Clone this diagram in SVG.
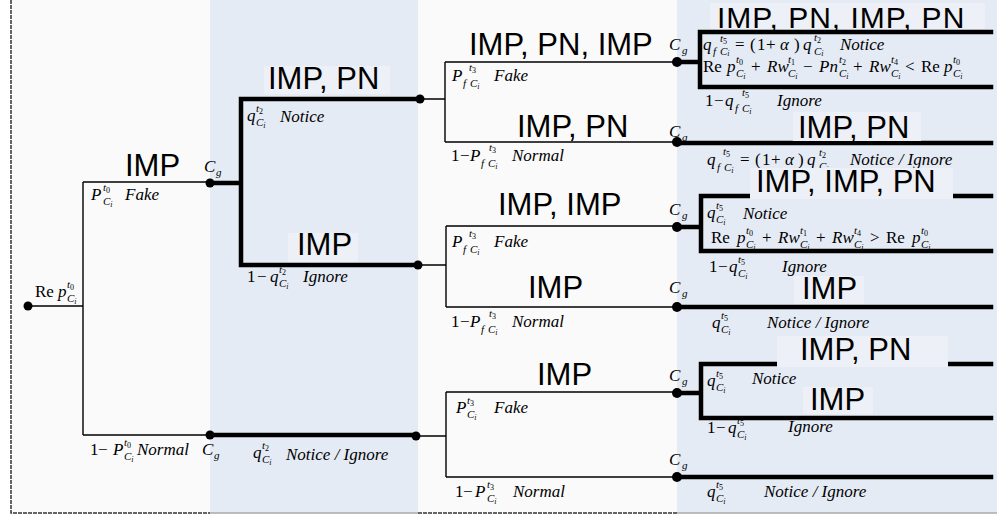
<svg xmlns="http://www.w3.org/2000/svg" width="997" height="518" viewBox="0 0 997 518">
<style>
.t{font-family:"Liberation Serif","Times New Roman",serif;font-size:17px;fill:#000}
.b{font-family:"Liberation Sans",Arial,sans-serif;font-size:31px;fill:#000}
.i{font-style:italic}
.s{font-size:11px}
.u{font-size:8px}
.r{font-style:normal}
.thin{fill:none;stroke:#000;stroke-width:1.4}
.thick{fill:none;stroke:#000;stroke-width:4.5;stroke-linejoin:miter;stroke-linecap:square}
.dot{fill:#000}
.band{fill:#e5ebf5}
.box{fill:#edf0f6}
</style>
<rect width="997" height="518" fill="#ffffff"/>
<rect x="11" y="0" width="986" height="513" fill="#fafafa"/>
<g id="bands">
<rect class="band" x="210" y="0" width="208" height="513"/>
<rect class="band" x="677" y="0" width="320" height="513"/>
</g>
<g id="frame" fill="none" stroke="#333" stroke-width="1.5" stroke-dasharray="4 1">
<path d="M11,0 V513 H210"/>
<path d="M418,513 H677"/>
<path d="M210,513 H418 M677,513 H997" stroke="#aaa" stroke-dasharray="none"/>
</g>
<g id="connectors">
<path class="thin" d="M28,306 H83 M83,182 V435 M83,182 H210 M83,435 H210"/>
<path class="thin" d="M420,99 H445 M445,62 V142 M445,62 H677 M445,142 H677"/>
<path class="thin" d="M418,265 H446 M446,226 V307 M446,226 H677 M446,307 H677"/>
<path class="thin" d="M416,436 H446 M446,392 V477 M446,392 H677 M446,477 H677"/>
<path class="thick" d="M210,183 H241 M418,99 H241 V265 H416"/>
<path class="thick" d="M210,435 H414"/>
<path class="thick" d="M991,32 H700 V87 H991 M677,62 H700"/>
<path class="thick" d="M677,143 H991"/>
<path class="thick" d="M991,196 H701 V251 H991 M677,227 H701"/>
<path class="thick" d="M677,307 H991"/>
<path class="thick" d="M991,364 H701 V418 H991 M677,393 H701"/>
<path class="thick" d="M677,477 H991"/>
</g>
<g id="n-root">
<circle class="dot" cx="28" cy="306" r="4.5"/>
<text class="t" x="35" y="297">Re <tspan class="i" x="58" y="297">p</tspan><tspan class="s i" x="67" y="288">t</tspan><tspan class="u r" y="290">0</tspan><tspan class="s i" x="67" y="302">C</tspan><tspan class="u i" y="304">i</tspan></text>
</g>
<g id="l-imp1">
<text class="b" x="125" y="176">IMP</text>
<text class="t i" x="91" y="200">P<tspan class="s" x="103" y="191">t</tspan><tspan class="u r" y="193">0</tspan><tspan class="s" x="103" y="205">C</tspan><tspan class="u" y="207">i</tspan><tspan x="125" y="200">Fake</tspan></text>
</g>
<g id="l-normal1">
<text class="t" x="90" y="455">1<tspan x="98" y="455">−</tspan><tspan class="i" x="113" y="455">P</tspan><tspan class="s i" x="124" y="446">t</tspan><tspan class="u r" y="448">0</tspan><tspan class="s i" x="124" y="460">C</tspan><tspan class="u i" y="462">i</tspan><tspan class="i" x="137" y="455">Normal</tspan></text>
</g>
<g id="n-cg-a">
<circle class="dot" cx="210" cy="183" r="4.5"/>
<text class="t i" x="204" y="172">C<tspan class="s" x="216" y="176">g</tspan></text>
</g>
<g id="n-cg-b">
<circle class="dot" cx="210" cy="435" r="4.5"/>
<text class="t i" x="202" y="455">C<tspan class="s" x="214" y="459">g</tspan></text>
</g>
<g id="l-stage2">
<rect class="box" x="264" y="66" width="126" height="28"/>
<text class="b" x="268" y="89">IMP, PN</text>
<text class="t i" x="247" y="121">q<tspan class="s" x="256" y="112">t</tspan><tspan class="u r" y="114">2</tspan><tspan class="s" x="256" y="126">C</tspan><tspan class="u" y="128">i</tspan><tspan x="280" y="122">Notice</tspan></text>
<rect class="box" x="288" y="233" width="70" height="29"/>
<text class="b" x="297" y="255">IMP</text>
<text class="t" x="247" y="282">1<tspan x="257" y="282">−</tspan><tspan class="i" x="270" y="282">q</tspan><tspan class="s i" x="279" y="273">t</tspan><tspan class="u r" y="275">2</tspan><tspan class="s i" x="279" y="287">C</tspan><tspan class="u i" y="289">i</tspan><tspan class="i" x="303" y="282">Ignore</tspan></text>
<text class="t i" x="253" y="458">q<tspan class="s" x="262" y="449">t</tspan><tspan class="u r" y="451">2</tspan><tspan class="s" x="262" y="463">C</tspan><tspan class="u" y="465">i</tspan><tspan x="286" y="460">Notice / Ignore</tspan></text>
</g>
<g id="n-s2a"><circle class="dot" cx="420" cy="99" r="4.5"/></g>
<g id="n-s2b"><circle class="dot" cx="418" cy="265" r="4.5"/></g>
<g id="n-s2c"><circle class="dot" cx="416" cy="436" r="4.5"/></g>
<g id="l-stage3a">
<text class="b" x="469" y="55">IMP, PN, IMP</text>
<text class="t i" x="452" y="81">P<tspan class="s" x="469" y="71">t</tspan><tspan class="u r" y="73">3</tspan><tspan class="s" x="463" y="87">f</tspan><tspan class="s" x="470" y="87">C</tspan><tspan class="u" y="89">i</tspan><tspan x="494" y="81">Fake</tspan></text>
<text class="b" x="517" y="137">IMP, PN</text>
<text class="t" x="451" y="161">1<tspan x="460" y="161">−</tspan><tspan class="i" x="470" y="161">P</tspan><tspan class="s i" x="489" y="151">t</tspan><tspan class="u r" y="153">3</tspan><tspan class="s i" x="481" y="167">f</tspan><tspan class="s i" x="488" y="167">C</tspan><tspan class="u i" y="169">i</tspan><tspan class="i" x="512" y="161">Normal</tspan></text>
</g>
<g id="l-stage3b">
<text class="b" x="498" y="215">IMP, IMP</text>
<text class="t i" x="452" y="247">P<tspan class="s" x="469" y="237">t</tspan><tspan class="u r" y="239">3</tspan><tspan class="s" x="463" y="253">f</tspan><tspan class="s" x="470" y="253">C</tspan><tspan class="u" y="255">i</tspan><tspan x="494" y="247">Fake</tspan></text>
<text class="b" x="528" y="298">IMP</text>
<text class="t" x="451" y="327">1<tspan x="460" y="327">−</tspan><tspan class="i" x="470" y="327">P</tspan><tspan class="s i" x="489" y="317">t</tspan><tspan class="u r" y="319">3</tspan><tspan class="s i" x="481" y="333">f</tspan><tspan class="s i" x="488" y="333">C</tspan><tspan class="u i" y="335">i</tspan><tspan class="i" x="512" y="327">Normal</tspan></text>
</g>
<g id="l-stage3c">
<text class="b" x="537" y="385">IMP</text>
<text class="t i" x="456" y="413">P<tspan class="s" x="467" y="404">t</tspan><tspan class="u r" y="406">3</tspan><tspan class="s" x="467" y="418">C</tspan><tspan class="u" y="420">i</tspan><tspan x="494" y="413">Fake</tspan></text>
<text class="t" x="455" y="497">1<tspan x="463" y="497">−</tspan><tspan class="i" x="475" y="497">P</tspan><tspan class="s i" x="487" y="488">t</tspan><tspan class="u r" y="490">3</tspan><tspan class="s i" x="487" y="502">C</tspan><tspan class="u i" y="504">i</tspan><tspan class="i" x="513" y="497">Normal</tspan></text>
</g>
<g id="n-s3a">
<circle class="dot" cx="677" cy="62" r="5"/>
<text class="t i" x="669" y="50">C<tspan class="s" x="682" y="54">g</tspan></text>
</g>
<g id="n-s3b">
<circle class="dot" cx="677" cy="142" r="5"/>
<text class="t i" x="669" y="137">C<tspan class="s" x="682" y="141">g</tspan></text>
</g>
<g id="n-s3c">
<circle class="dot" cx="677" cy="227" r="5"/>
<text class="t i" x="669" y="215">C<tspan class="s" x="682" y="219">g</tspan></text>
</g>
<g id="n-s3d">
<circle class="dot" cx="677" cy="307" r="5"/>
<text class="t i" x="669" y="293">C<tspan class="s" x="682" y="297">g</tspan></text>
</g>
<g id="n-s3e">
<circle class="dot" cx="677" cy="393" r="5"/>
<text class="t i" x="669" y="381">C<tspan class="s" x="682" y="385">g</tspan></text>
</g>
<g id="n-s3f">
<circle class="dot" cx="677" cy="477" r="5"/>
<text class="t i" x="669" y="465">C<tspan class="s" x="682" y="469">g</tspan></text>
</g>
<g id="l-stage4a">
<rect class="box" x="710" y="3" width="275" height="26"/>
<text class="b" x="717" y="28" style="font-size:30px;letter-spacing:1px">IMP, PN, IMP, PN</text>
<text class="t" x="703" y="50"><tspan class="i">q</tspan><tspan class="s i" x="720" y="42">t</tspan><tspan class="u" y="44">5</tspan><tspan class="s i" x="713" y="55">f</tspan><tspan class="s i" x="720" y="55">C</tspan><tspan class="u i" y="56">i</tspan><tspan x="735" y="50">=</tspan><tspan x="750" y="50">(</tspan><tspan x="757" y="50">1</tspan><tspan x="766" y="50">+</tspan><tspan class="i" x="780" y="50">α</tspan><tspan x="794" y="50">)</tspan><tspan class="i" x="803" y="50">q</tspan><tspan class="s i" x="814" y="41">t</tspan><tspan class="u" y="43">2</tspan><tspan class="s i" x="814" y="55">C</tspan><tspan class="u i" y="56">i</tspan><tspan class="i" x="840" y="50">Notice</tspan></text>
<text class="t" x="703" y="72">Re<tspan class="i" x="727" y="72">p</tspan><tspan class="s i" x="736" y="63">t</tspan><tspan class="u" y="65">0</tspan><tspan class="s i" x="736" y="77">C</tspan><tspan class="u i" y="79">i</tspan><tspan x="751" y="72">+</tspan><tspan class="i" x="767" y="72">Rw</tspan><tspan class="s i" x="788" y="63">t</tspan><tspan class="u" y="65">1</tspan><tspan class="s i" x="788" y="77">C</tspan><tspan class="u i" y="79">i</tspan><tspan x="803" y="72">−</tspan><tspan class="i" x="819" y="72">Pn</tspan><tspan class="s i" x="839" y="63">t</tspan><tspan class="u" y="65">2</tspan><tspan class="s i" x="839" y="77">C</tspan><tspan class="u i" y="79">i</tspan><tspan x="853" y="72">+</tspan><tspan class="i" x="869" y="72">Rw</tspan><tspan class="s i" x="891" y="63">t</tspan><tspan class="u" y="65">4</tspan><tspan class="s i" x="891" y="77">C</tspan><tspan class="u i" y="79">i</tspan><tspan x="905" y="72">&lt;</tspan><tspan x="921" y="72">Re</tspan><tspan class="i" x="944" y="72">p</tspan><tspan class="s i" x="953" y="63">t</tspan><tspan class="u" y="65">0</tspan><tspan class="s i" x="953" y="77">C</tspan><tspan class="u i" y="79">i</tspan></text>
<text class="t" x="705" y="106">1<tspan x="714" y="106">−</tspan><tspan class="i" x="725" y="106">q</tspan><tspan class="s i" x="742" y="96">t</tspan><tspan class="u" y="98">5</tspan><tspan class="s i" x="735" y="112">f</tspan><tspan class="s i" x="742" y="112">C</tspan><tspan class="u i" y="114">i</tspan><tspan class="i" x="777" y="106">Ignore</tspan></text>
</g>
<g id="l-stage4b">
<rect class="box" x="793" y="112" width="128" height="29"/>
<text class="b" x="798" y="138">IMP, PN</text>
<text class="t" x="707" y="165"><tspan class="i">q</tspan><tspan class="s i" x="723" y="155">t</tspan><tspan class="u" y="157">5</tspan><tspan class="s i" x="717" y="171">f</tspan><tspan class="s i" x="724" y="171">C</tspan><tspan class="u i" y="173">i</tspan><tspan x="740" y="165">=</tspan><tspan x="755" y="165">(</tspan><tspan x="762" y="165">1</tspan><tspan x="771" y="165">+</tspan><tspan class="i" x="785" y="165">α</tspan><tspan x="798" y="165">)</tspan><tspan class="i" x="807" y="165">q</tspan><tspan class="s i" x="819" y="156">t</tspan><tspan class="u" y="158">2</tspan><tspan class="s i" x="819" y="170">C</tspan><tspan class="u i" y="172">i</tspan><tspan class="i" x="850" y="165">Notice / Ignore</tspan></text>
</g>
<g id="l-stage4c">
<rect class="box" x="750" y="168" width="203" height="31"/>
<text class="b" x="756" y="192">IMP, IMP, PN</text>
<text class="t i" x="707" y="218">q<tspan class="s" x="716" y="209">t</tspan><tspan class="u r" y="211">5</tspan><tspan class="s" x="716" y="223">C</tspan><tspan class="u" y="225">i</tspan><tspan x="743" y="219">Notice</tspan></text>
<text class="t" x="711" y="243">Re<tspan class="i" x="737" y="243">p</tspan><tspan class="s i" x="746" y="234">t</tspan><tspan class="u" y="236">0</tspan><tspan class="s i" x="746" y="248">C</tspan><tspan class="u i" y="250">i</tspan><tspan x="762" y="243">+</tspan><tspan class="i" x="778" y="243">Rw</tspan><tspan class="s i" x="800" y="234">t</tspan><tspan class="u" y="236">1</tspan><tspan class="s i" x="800" y="248">C</tspan><tspan class="u i" y="250">i</tspan><tspan x="816" y="243">+</tspan><tspan class="i" x="832" y="243">Rw</tspan><tspan class="s i" x="854" y="234">t</tspan><tspan class="u" y="236">4</tspan><tspan class="s i" x="854" y="248">C</tspan><tspan class="u i" y="250">i</tspan><tspan x="870" y="243">&gt;</tspan><tspan x="886" y="243">Re</tspan><tspan class="i" x="912" y="243">p</tspan><tspan class="s i" x="921" y="234">t</tspan><tspan class="u" y="236">0</tspan><tspan class="s i" x="921" y="248">C</tspan><tspan class="u i" y="250">i</tspan></text>
<text class="t" x="709" y="272">1<tspan x="718" y="272">−</tspan><tspan class="i" x="729" y="272">q</tspan><tspan class="s i" x="738" y="263">t</tspan><tspan class="u" y="265">5</tspan><tspan class="s i" x="738" y="277">C</tspan><tspan class="u i" y="279">i</tspan><tspan class="i" x="782" y="272">Ignore</tspan></text>
</g>
<g id="l-stage4d">
<rect class="box" x="794" y="276" width="70" height="28"/>
<text class="b" x="802" y="299">IMP</text>
<text class="t i" x="712" y="328">q<tspan class="s" x="721" y="319">t</tspan><tspan class="u r" y="321">5</tspan><tspan class="s" x="721" y="333">C</tspan><tspan class="u" y="335">i</tspan><tspan x="767" y="328">Notice / Ignore</tspan></text>
</g>
<g id="l-stage4e">
<rect class="box" x="777" y="336" width="171" height="31"/>
<text class="b" x="800" y="360">IMP, PN</text>
<text class="t i" x="707" y="386">q<tspan class="s" x="716" y="377">t</tspan><tspan class="u r" y="379">5</tspan><tspan class="s" x="716" y="391">C</tspan><tspan class="u" y="393">i</tspan><tspan x="752" y="384">Notice</tspan></text>
<rect class="box" x="803" y="387" width="70" height="27"/>
<text class="b" x="810" y="410">IMP</text>
<text class="t" x="707" y="433">1<tspan x="716" y="433">−</tspan><tspan class="i" x="728" y="433">q</tspan><tspan class="s i" x="737" y="424">t</tspan><tspan class="u" y="426">5</tspan><tspan class="s i" x="737" y="438">C</tspan><tspan class="u i" y="440">i</tspan><tspan class="i" x="788" y="432">Ignore</tspan></text>
</g>
<g id="l-stage4f">
<text class="t i" x="707" y="497">q<tspan class="s" x="716" y="488">t</tspan><tspan class="u r" y="490">5</tspan><tspan class="s" x="716" y="502">C</tspan><tspan class="u" y="504">i</tspan><tspan x="764" y="497">Notice / Ignore</tspan></text>
</g>
</svg>
